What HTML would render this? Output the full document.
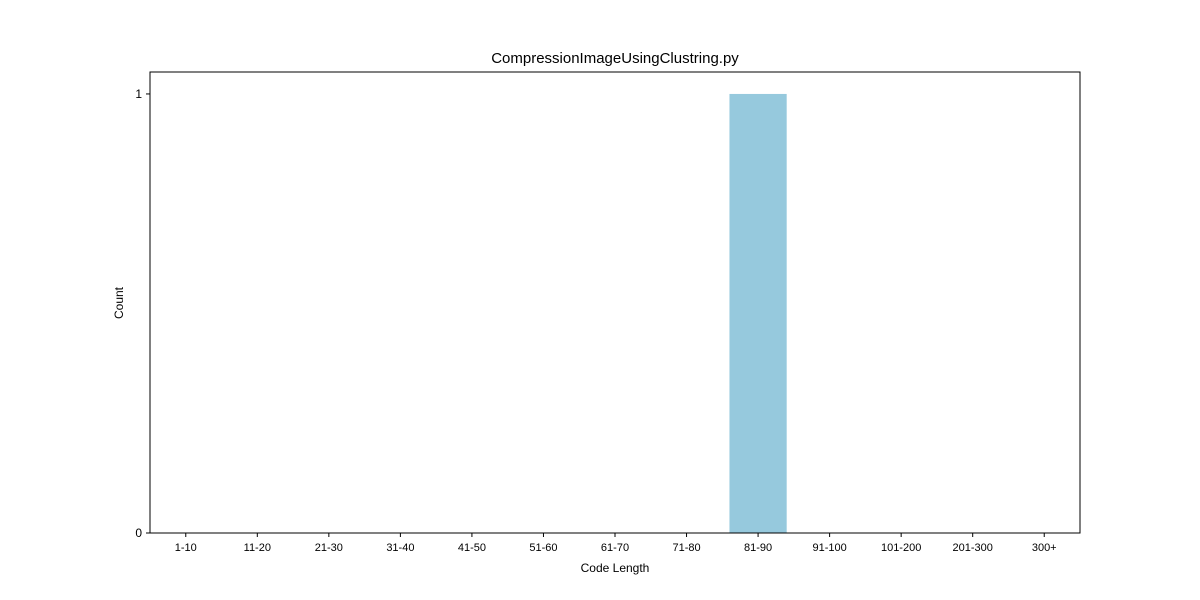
<!DOCTYPE html>
<html><head><meta charset="utf-8"><style>
html,body{margin:0;padding:0;background:#fff;}
svg{display:block;font-family:"Liberation Sans","DejaVu Sans",sans-serif;}
</style></head><body>
<svg id="chart" width="1200" height="600">
<rect x="0" y="0" width="1200" height="600" fill="#fff"/>
<text x="615" y="63" font-size="15" text-anchor="middle" fill="#000">CompressionImageUsingClustring.py</text>
<g id="bars"></g>
<g id="xticks"></g>
<g id="yticks"></g>
<rect x="150" y="72" width="930" height="461" fill="none" stroke="#000" stroke-width="1"/>
<text x="615" y="572" font-size="12" text-anchor="middle">Code Length</text>
<text x="123" y="303" font-size="12" text-anchor="middle" transform="rotate(-90 123 303)">Count</text>
</svg>
<script>
const categories = ["1-10","11-20","21-30","31-40","41-50","51-60","61-70","71-80","81-90","91-100","101-200","201-300","300+"];
const counts = [0,0,0,0,0,0,0,0,1,0,0,0,0];
const yTicks = [0,1];

const ns="http://www.w3.org/2000/svg";
const L=150,R=1080,T=72,B=533;
const xmin=-0.5,xmax=categories.length-0.5;
const ymax=Math.max(...counts)*1.05||1;
const x=i=>L+(i-xmin)/(xmax-xmin)*(R-L);
const y=v=>B-v/ymax*(B-T);
const unit=(R-L)/(xmax-xmin);
const bars=document.getElementById('bars');
const xt=document.getElementById('xticks');
const yt=document.getElementById('yticks');
function mk(t,a){const e=document.createElementNS(ns,t);for(const k in a)e.setAttribute(k,a[k]);return e;}
categories.forEach((c,i)=>{
  const v=counts[i];
  if(v>0){
    const r=mk('rect',{x:x(i)-0.4*unit,y:y(v),width:0.8*unit,height:y(0)-y(v),fill:'#96c9dd'});
    
    
    bars.appendChild(r);
  }
  const tk=mk('line',{x1:x(i),x2:x(i),y1:B,y2:B+4,stroke:'#000'});
  
  
  xt.appendChild(tk);
  const tl=mk('text',{x:x(i),y:B+18,'font-size':11,'text-anchor':'middle'});
  tl.textContent=c;
  
  
  xt.appendChild(tl);
});
yTicks.forEach(v=>{
  const tk=mk('line',{x1:L-4,x2:L,y1:y(v),y2:y(v),stroke:'#000'});
  
  
  yt.appendChild(tk);
  const tl=mk('text',{x:L-8,y:y(v)+4,'font-size':12,'text-anchor':'end'});
  tl.textContent=v;
  
  
  yt.appendChild(tl);
});
</script>
</body></html>
